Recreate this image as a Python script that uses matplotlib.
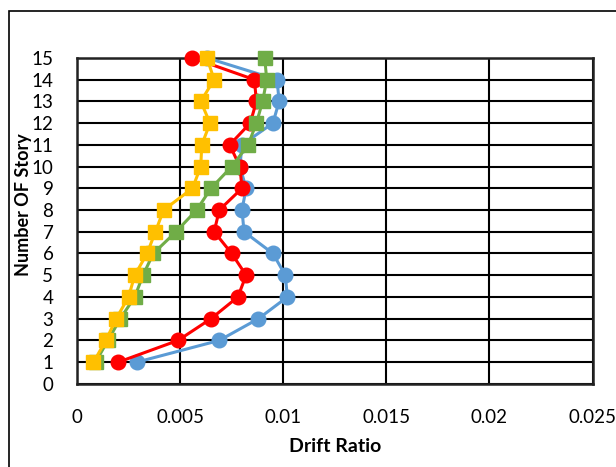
import matplotlib.pyplot as plt
from matplotlib.patches import Rectangle

plt.rcParams['font.family'] = ['Lato', 'DejaVu Sans']

stories = list(range(1, 16))
drift_blue = [0.0029, 0.0069, 0.0088, 0.0102, 0.0101, 0.0095, 0.0081, 0.0080,
              0.0082, 0.0079, 0.0080, 0.0095, 0.0098, 0.0097, 0.0063]
drift_red = [0.0020, 0.0049, 0.0065, 0.0078, 0.0082, 0.0075, 0.00665, 0.0069,
             0.0080, 0.0079, 0.0074, 0.0084, 0.0087, 0.0086, 0.0056]
drift_green = [0.0009, 0.0015, 0.0021, 0.0028, 0.0032, 0.0037, 0.0048, 0.0058,
               0.0065, 0.0075, 0.0083, 0.0087, 0.0090, 0.0092, 0.0091]
drift_yellow = [0.0008, 0.0014, 0.0019, 0.0025, 0.0028, 0.0034, 0.0038, 0.0042,
                0.0056, 0.0060, 0.00605, 0.00645, 0.0060, 0.00665, 0.0063]

x_ticks = [0, 0.005, 0.01, 0.015, 0.02, 0.025]
x_tick_labels = ['0', '0.005', '0.01', '0.015', '0.02', '0.025']

fig = plt.figure(figsize=(6.16, 4.67), dpi=100)
ax = fig.add_axes([0.125, 0.178, 0.837, 0.698])

# chart area frame, cut off at the right and bottom
fig.patches.append(Rectangle((8.5 / 616, -0.05), 1.2, 1 - 11 / 467 + 0.05,
                             transform=fig.transFigure, fill=False,
                             edgecolor='black', linewidth=1.2))

series = [
    (drift_blue, '-o', '#5B9BD5', 10.5),
    (drift_red, '-o', '#FF0000', 10.5),
    (drift_green, '-s', '#70AD47', 10),
    (drift_yellow, '-s', '#FFC000', 10),
]
for z, (vals, fmt, col, ms) in enumerate(series):
    ax.plot(vals, stories, fmt, color=col, markersize=ms, linewidth=2.2,
            zorder=3 + z, clip_on=False)

ax.set_xlim(0, 0.025)
ax.set_ylim(0, 15)
ax.set_xticks(x_ticks)
ax.set_xticklabels(x_tick_labels)
ax.set_yticks(range(0, 16))
ax.grid(True, color='black', linewidth=1.5)
ax.set_axisbelow(True)
for s in ax.spines.values():
    s.set_linewidth(1.8)
    s.set_color('#222222')
ax.tick_params(length=0, labelsize=13.5)
ax.tick_params(axis='y', pad=17)
ax.tick_params(axis='x', pad=18)

ax.set_xlabel('Drift Ratio', fontsize=14, fontweight='bold')
ax.xaxis.set_label_coords(0.5, -0.165)
ax.set_ylabel('Number OF Story', fontsize=13, fontweight='bold')
ax.yaxis.set_label_coords(-0.088, 0.55)

fig.savefig('out.png', dpi=100)
